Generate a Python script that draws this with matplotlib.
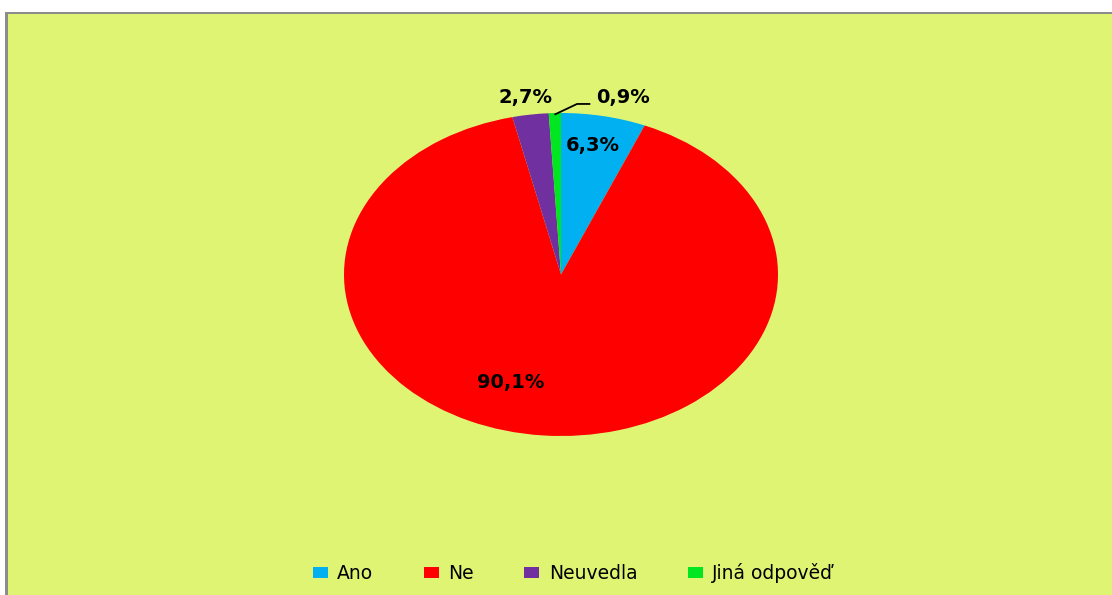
import matplotlib.pyplot as plt
from matplotlib.patches import Rectangle

categories = ["Ano", "Ne", "Neuvedla", "Jiná odpověď"]
values = [6.3, 90.1, 2.7, 0.9]
labels = ["6,3%", "90,1%", "2,7%", "0,9%"]
colors = ["#00B0F0", "#FF0000", "#7030A0", "#00E620"]

# label placement (data coords of the stretched pie axes)
label_pos = [(0.145, 0.80), (-0.23, -0.67), (-0.165, 1.093), (0.285, 1.093)]

W, H = 1112, 595
fig = plt.figure(figsize=(W / 100, H / 100), dpi=100)
fig.patch.set_facecolor("white")

# chart area with grey top/left border
fig.patches.append(Rectangle((5 / W, 0), 1, 1 - 12 / H, transform=fig.transFigure,
                             facecolor="#8C8C8C", edgecolor="none", zorder=-2))
fig.patches.append(Rectangle((8 / W, 0), 1, 1 - 14 / H, transform=fig.transFigure,
                             facecolor="#E0F474", edgecolor="none", zorder=-1))

# pie axes spans the ellipse bounding box in pixels
left, right, top, bottom = 344, 778, 113, 436
ax = fig.add_axes([left / W, 1 - bottom / H, (right - left) / W, (bottom - top) / H])
wedges, _ = ax.pie(values, colors=colors, startangle=90, counterclock=False,
                   radius=1.0, wedgeprops=dict(linewidth=0))
ax.set_aspect("auto")
ax.set_xlim(-1, 1)
ax.set_ylim(-1, 1)
ax.axis("off")

for lab, (x, y) in zip(labels, label_pos):
    ax.text(x, y, lab, ha="center", va="center", fontsize=14, fontweight="bold",
            color="black", clip_on=False)

# leader line for the small slice
ax.plot([-0.03, 0.074, 0.135], [0.99, 1.056, 1.056], color="black", lw=1.3,
        clip_on=False, solid_capstyle="butt")

handles = [Rectangle((0, 0), 1, 1, facecolor=c, edgecolor="none") for c in colors]
fig.legend(handles, categories, loc="center", bbox_to_anchor=(573 / W, 1 - 573 / H),
           ncol=4, frameon=False, fontsize=13.5, handlelength=0.8, handleheight=0.55,
           handletextpad=0.5, columnspacing=2.7)

fig.savefig("out.png", dpi=100, facecolor=fig.get_facecolor())
